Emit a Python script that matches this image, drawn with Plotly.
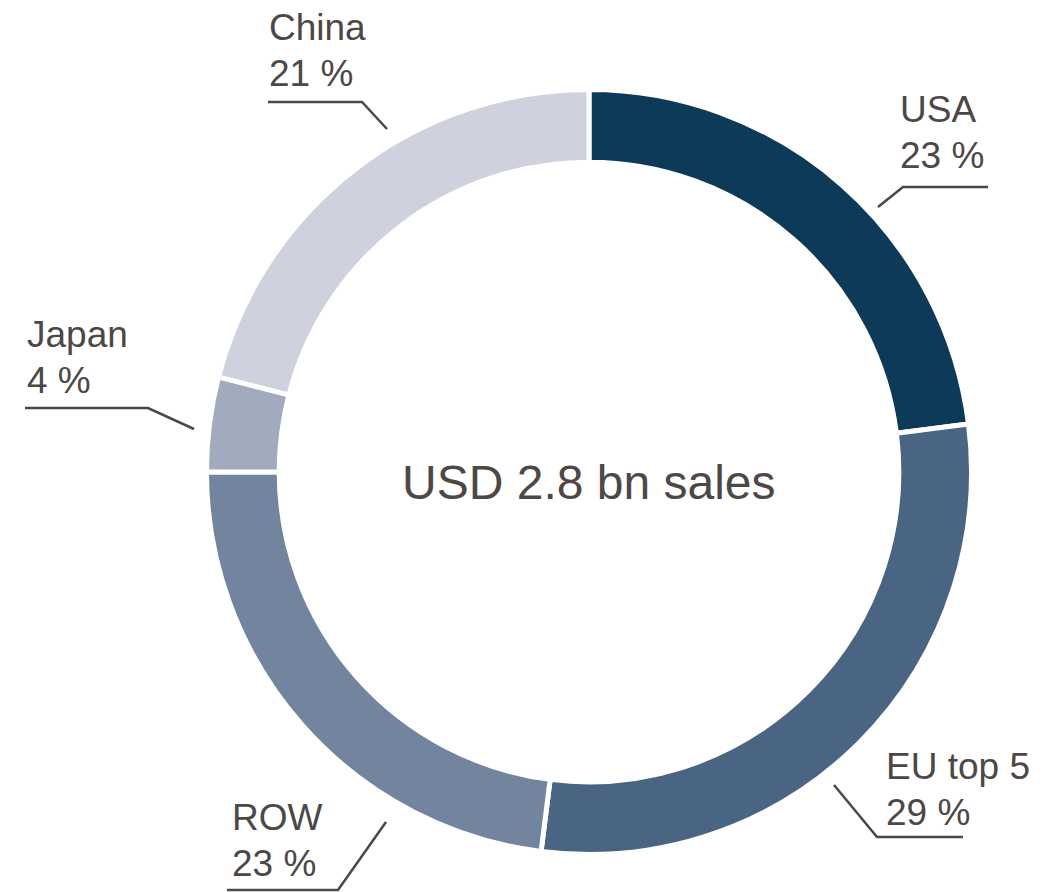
import plotly.graph_objects as go

# ---- data ----
regions = ["USA", "EU top 5", "ROW", "Japan", "China"]
shares = [23, 29, 23, 4, 21]
colors = ["#0c3a58", "#4a6584", "#73849f", "#a2aabd", "#cfd2de"]
center_text = "USD 2.8 bn sales"

W, H = 1056, 892
OFF = 8  # browser default body margin
TXT = "#4d4746"
FONT = "Arial, Liberation Sans, sans-serif"
LABEL_SIZE = 37
LINE_GAP = 46

def px(x):
    return (x - OFF) / W

def py(y):
    return 1 - (y - OFF) / H

# ring geometry (screen pixels)
cx, cy, R = 589, 472, 382.5

# leader line geometry per label (screen pixels): start, elbow, end; text anchor (left x, bottom y)
leaders = {
    "USA":      dict(pts=[(878, 207), (903, 187), (988, 187)], tx=899, ty=177),
    "EU top 5": dict(pts=[(834, 785), (877, 837), (963, 837)], tx=885, ty=834),
    "ROW":      dict(pts=[(386, 822), (338, 890), (227, 890)], tx=231, ty=885),
    "Japan":    dict(pts=[(194, 429), (148, 408), (25, 408)], tx=26, ty=402),
    "China":    dict(pts=[(387, 129), (362, 102), (268, 102)], tx=268, ty=95),
}

fig = go.Figure(go.Pie(
    labels=regions,
    values=shares,
    sort=False,
    direction="clockwise",
    rotation=0,
    hole=0.81,
    textinfo="none",
    hoverinfo="label+percent",
    marker=dict(colors=colors, line=dict(color="white", width=5)),
    domain=dict(x=[px(cx - R), px(cx + R)], y=[py(cy + R), py(cy - R)]),
    showlegend=False,
))

shapes = []
annotations = []
for name, val in zip(regions, shares):
    g = leaders[name]
    path = "M " + " L ".join(f"{px(x):.5f},{py(y):.5f}" for x, y in g["pts"])
    shapes.append(dict(type="path", path=path, xref="paper", yref="paper",
                       line=dict(color=TXT, width=2.5)))
    for txt, bottom in ((name, g["ty"] - LINE_GAP), (f"{val} %", g["ty"])):
        annotations.append(dict(
            text=txt, x=px(g["tx"]), y=py(bottom),
            xref="paper", yref="paper", xanchor="left", yanchor="bottom",
            align="left", showarrow=False, borderpad=0,
            font=dict(family=FONT, size=LABEL_SIZE, color=TXT),
        ))

annotations.append(dict(
    text=center_text, x=px(cx), y=py(482), xref="paper", yref="paper",
    xanchor="center", yanchor="middle", showarrow=False,
    font=dict(family=FONT, size=48, color=TXT),
))

fig.update_layout(
    width=W, height=H,
    margin=dict(l=0, r=0, t=0, b=0),
    paper_bgcolor="white", plot_bgcolor="white",
    shapes=shapes, annotations=annotations,
)

fig.write_html("out.html")
